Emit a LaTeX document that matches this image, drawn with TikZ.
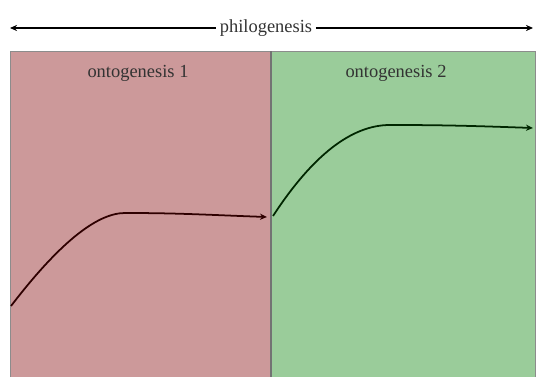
\documentclass[tikz,border=0pt]{standalone}
\usepackage{fontspec}
\setmainfont{Liberation Serif}
\usetikzlibrary{arrows.meta}
\definecolor{ontored}{RGB}{204,153,154}
\definecolor{ontogreen}{RGB}{154,204,154}

\begin{document}
\begin{tikzpicture}[
    label/.style={font=\fontsize{10.5}{12}\selectfont, text=black!80, inner sep=1pt},
    growth/.style={line width=1pt, -{Stealth[length=4pt, width=3.5pt]}}
  ]
  \useasboundingbox (0.0, 0.0) rectangle (10.82, 7.54);
  \def\top{6.52};
  \def\mid{5.42};
  % two life spans
  \fill[ontored] (0.2, 0.0) rectangle (\mid, \top);
  \fill[ontogreen] (\mid, 0.0) rectangle (10.7, \top);
  \draw[black!45, line width=0.5pt] (0.2, 0.0) -- (0.2, \top) -- (10.7, \top) -- (10.7, 0.0);
  \draw[black!55, line width=0.6pt] (\mid, 0.0) -- (\mid, \top);
  \node[label] (onto1) at (2.76, 6.08) {ontogenesis 1};
  \node[label] (onto2) at (7.92, 6.08) {ontogenesis 2};
  % whole span
  \coordinate (L) at (0.2, 6.98);
  \coordinate (R) at (10.66, 6.98);
  \node[label, inner sep=2pt] (phil) at (5.32, 6.98) {philogenesis};
  \draw[line width=0.8pt, {Stealth[length=4pt, width=3.5pt]}-] (L) -- (phil.west);
  \draw[line width=0.8pt, -{Stealth[length=4pt, width=3.5pt]}] (phil.east) -- (R);
  % curves
  \coordinate (A1) at (0.22, 1.42);
  \coordinate (P1) at (2.5, 3.28);
  \coordinate (E1) at (5.34, 3.2);
  \coordinate (A2) at (5.46, 3.22);
  \coordinate (P2) at (7.8, 5.04);
  \coordinate (E2) at (10.66, 4.98);
  \draw[growth, black!70!red!60!black] (A1) .. controls (1.17, 2.66) and (1.93, 3.28) .. (P1) to[out=0, in=178] (E1);
  \draw[growth, black!75!green!60!black] (A2) .. controls (6.25, 4.43) and (7.03, 5.04) .. (P2) to[out=0, in=178] (E2);
\end{tikzpicture}
\end{document}
